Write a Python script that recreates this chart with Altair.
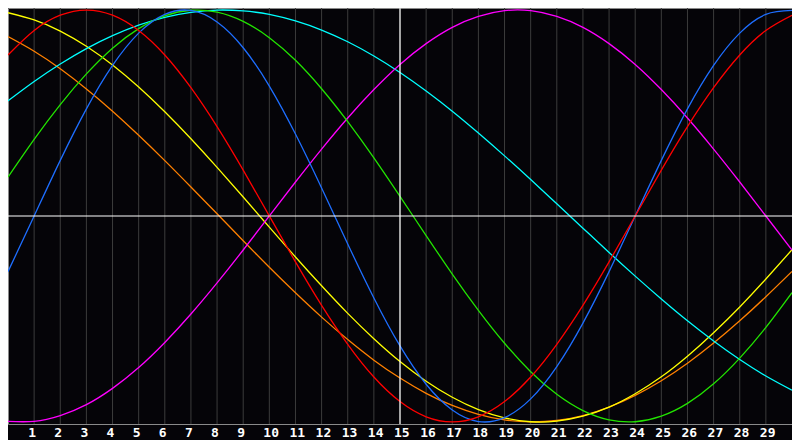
import altair as alt
import pandas as pd

days = list(range(0, 31))

# values, in percent of the full swing (+100 top, -100 bottom)
red = [78.2, 90.1, 97.5, 100.0, 97.5, 90.1, 78.2, 62.3, 43.4, 22.3, 0.0, -22.3, -43.4, -62.3,
       -78.2, -90.1, -97.5, -100.0, -97.5, -90.1, -78.2, -62.3, -43.4, -22.3, 0.0, 22.3, 43.4,
       62.3, 78.2, 90.1, 97.5]
blue = [-27.0, 0.0, 27.0, 52.0, 73.1, 88.8, 97.9, 99.8, 94.2, 81.7, 63.1, 39.8, 13.6, -13.6,
        -39.8, -63.1, -81.7, -94.2, -99.8, -97.9, -88.8, -73.1, -52.0, -27.0, 0.0, 27.0, 52.0,
        73.1, 88.8, 97.9, 99.8]
green = [18.9, 37.2, 54.1, 69.0, 81.5, 91.0, 97.2, 99.9, 99.0, 94.5, 86.6, 75.6, 61.8, 45.8,
         28.2, 9.5, -9.5, -28.2, -45.8, -61.8, -75.6, -86.6, -94.5, -99.0, -99.9, -97.2, -91.0,
         -81.5, -69.0, -54.1, -37.2]
cyan = [55.9, 65.3, 73.8, 81.3, 87.6, 92.7, 96.5, 98.9, 100.0, 99.6, 97.9, 94.7, 90.3, 84.6,
        77.7, 69.7, 60.7, 50.9, 40.3, 29.2, 17.7, 5.9, -5.9, -17.7, -29.2, -40.3, -50.9, -60.7,
        -69.7, -77.7, -84.6]
magenta = [-99.7, -99.7, -96.9, -91.6, -83.7, -73.6, -61.4, -47.6, -32.5, -16.5, 0.0, 16.5,
           32.5, 47.6, 61.4, 73.6, 83.7, 91.6, 96.9, 99.7, 99.7, 96.9, 91.6, 83.7, 73.6, 61.4,
           47.6, 32.5, 16.5, 0.0, -16.5]
yellow = [98.7, 95.2, 89.8, 82.4, 73.3, 62.6, 50.6, 37.5, 23.6, 9.2, -5.4, -19.9, -33.9, -47.3,
          -59.6, -70.7, -80.2, -88.0, -94.0, -98.0, -99.9, -99.6, -97.2, -92.8, -86.3, -78.1,
          -68.1, -56.7, -44.2, -30.6, -16.4]
orange = [87.1, 80.0, 71.5, 61.7, 50.9, 39.2, 26.9, 14.1, 1.1, -12.0, -24.9, -37.3, -49.1,
          -60.0, -70.0, -78.7, -86.1, -92.0, -96.3, -99.0, -100.0, -99.3, -96.9, -92.8, -87.1,
          -80.0, -71.5, -61.7, -50.9, -39.2, -26.9]

series_names = ["orange", "yellow", "cyan", "magenta", "green", "blue", "red"]
series_values = [orange, yellow, cyan, magenta, green, blue, red]
series_colors = ["#ff8000", "#ffff00", "#00ffff", "#ff00ff", "#22e400", "#1e6eff", "#ff0000"]

tick_days = list(range(1, 30))
tick_labels = [str(d) for d in tick_days]
today = 15
baseline_value = 0

rows = []
for name, vals in zip(series_names, series_values):
    for d, v in zip(days, vals):
        rows.append({"day": d, "value": v, "series": name})
df = pd.DataFrame(rows)

ticks_df = pd.DataFrame({"day": tick_days, "label": tick_labels})
today_df = pd.DataFrame({"day": [today]})
zero_df = pd.DataFrame({"value": [baseline_value]})

W, H = 784, 416
xs = alt.Scale(domain=[0, 30], nice=False, zero=False)
ys = alt.Scale(domain=[-101, 101], nice=False, zero=False)

grid = alt.Chart(ticks_df).mark_rule(color="#3c3c3c", strokeWidth=1).encode(
    x=alt.X("day:Q", scale=xs, axis=None)
)

hline = alt.Chart(zero_df).mark_rule(color="#ffffff", strokeWidth=1.2).encode(
    y=alt.Y("value:Q", scale=ys, axis=None)
)
vline = alt.Chart(today_df).mark_rule(color="#ffffff", strokeWidth=1.2).encode(
    x=alt.X("day:Q", scale=xs, axis=None)
)

lines = alt.Chart(df).mark_line(strokeWidth=1.3, interpolate="natural", clip=True).encode(
    x=alt.X("day:Q", scale=xs, axis=None),
    y=alt.Y("value:Q", scale=ys, axis=None),
    color=alt.Color("series:N", scale=alt.Scale(domain=series_names, range=series_colors), legend=None),
)

labels = alt.Chart(ticks_df).mark_text(
    color="#ffffff", font="DejaVu Sans Mono", fontWeight="bold", fontSize=13,
    align="left", baseline="middle", dx=-6
).encode(
    x=alt.X("day:Q", scale=xs, axis=None),
    y=alt.value(H + 9),
    text="label:N",
)

chart = alt.layer(grid, lines, hline, vline, labels).properties(
    width=W, height=H,
    background="#050408",
    padding={"left": 0, "top": 0, "right": 0, "bottom": 16},
    autosize=alt.AutoSizeParams(type="none"),
).configure_view(stroke="#8a8a8a", strokeWidth=1, fill="#050408")

chart.save("out.html", embed_options={"renderer": "svg", "actions": False})
